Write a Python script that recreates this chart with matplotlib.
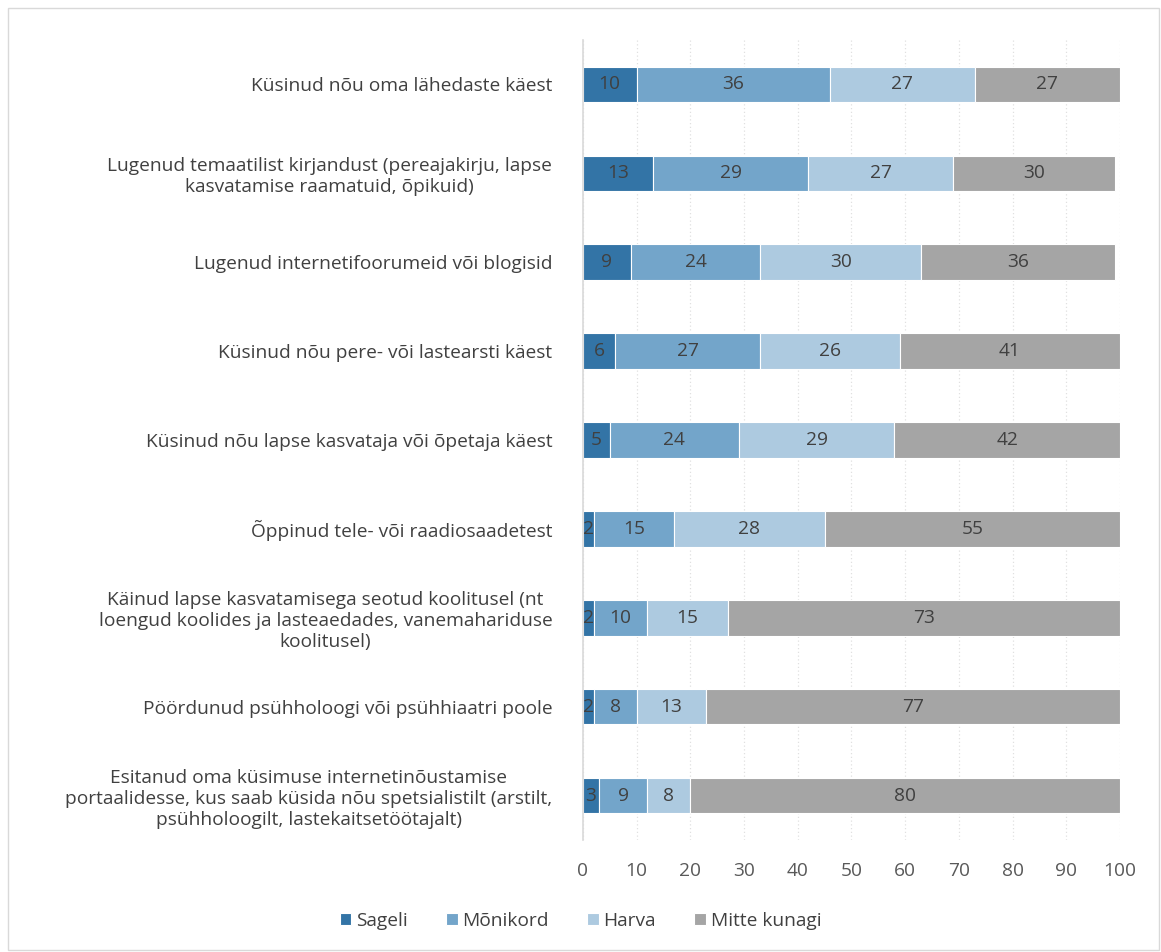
import matplotlib.pyplot as plt
import numpy as np
from matplotlib.patches import Rectangle

plt.rcParams['font.family'] = ['Open Sans', 'DejaVu Sans']

categories = [
    "Küsinud nõu oma lähedaste käest",
    "Lugenud temaatilist kirjandust (pereajakirju, lapse\nkasvatamise raamatuid, õpikuid)",
    "Lugenud internetifoorumeid või blogisid",
    "Küsinud nõu pere- või lastearsti käest",
    "Küsinud nõu lapse kasvataja või õpetaja käest",
    "Õppinud tele- või raadiosaadetest",
    "Käinud lapse kasvatamisega seotud koolitusel (nt\nloengud koolides ja lasteaedades, vanemahariduse\nkoolitusel)",
    "Pöördunud psühholoogi või psühhiaatri poole",
    "Esitanud oma küsimuse internetinõustamise\nportaalidesse, kus saab küsida nõu spetsialistilt (arstilt,\npsühholoogilt, lastekaitsetöötajalt)",
]
series_names = ["Sageli", "Mõnikord", "Harva", "Mitte kunagi"]
sageli = [10, 13, 9, 6, 5, 2, 2, 2, 3]
monikord = [36, 29, 24, 27, 24, 15, 10, 8, 9]
harva = [27, 27, 30, 26, 29, 28, 15, 13, 8]
mitte_kunagi = [27, 30, 36, 41, 42, 55, 73, 77, 80]
colors = ["#3374a6", "#73a5ca", "#adcae0", "#a5a5a5"]

fs = 13.8

fig = plt.figure(figsize=(11.61, 9.52), dpi=100)
ax = fig.add_axes([0.502, 0.1176, 0.4627, 0.8404])

y = np.arange(len(categories))
left = np.zeros(len(categories))
for name, vals, col in zip(series_names, [sageli, monikord, harva, mitte_kunagi], colors):
    vals = np.array(vals)
    bars = ax.barh(y, vals, left=left, height=0.4, color=col, edgecolor="white",
                   linewidth=0.8, label=name)
    ax.bar_label(bars, labels=[str(v) for v in vals], label_type="center",
                 color="#404040", fontsize=fs)
    left += vals

ax.set_xlim(0, 100)
ax.set_ylim(len(categories) - 0.5, -0.5)
ax.set_xticks(range(0, 101, 10))
ax.set_yticks(y)
ax.set_yticklabels(categories, ha="right", multialignment="center")
ax.tick_params(axis="y", length=0, pad=22, labelsize=fs, labelcolor="#404040")
ax.tick_params(axis="x", length=0, pad=16, labelsize=fs, labelcolor="#595959")
ax.xaxis.grid(True, linestyle=(0, (1, 2)), color="#e0e0e0", linewidth=0.9)
ax.set_axisbelow(True)
for s in ["top", "right", "bottom"]:
    ax.spines[s].set_visible(False)
ax.spines["left"].set_color("#d9d9d9")
ax.spines["left"].set_linewidth(1.2)

fig.legend(loc="center", bbox_to_anchor=(0.5, 0.033), ncol=4, frameon=False,
           fontsize=fs, handlelength=0.6, handleheight=0.6, handletextpad=0.25,
           columnspacing=2.0, labelcolor="#404040")

fig.patches.append(Rectangle((0.007, 0.002), 0.991, 0.99, transform=fig.transFigure,
                             fill=False, edgecolor="#d9d9d9", linewidth=1))

fig.savefig("out.png", dpi=100)
